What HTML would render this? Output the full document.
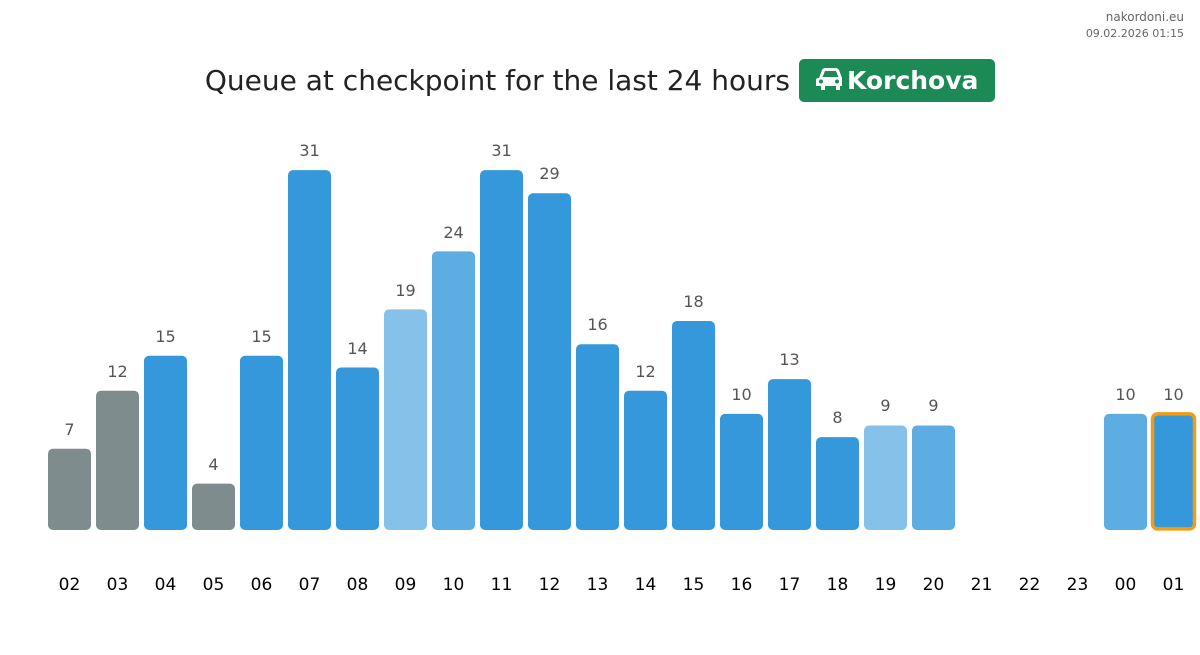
<!DOCTYPE html>
<html><head><meta charset="utf-8"><style>
body{margin:0;background:#fff;width:1200px;height:651px;overflow:hidden;font-family:"DejaVu Sans","Liberation Sans",sans-serif}
</style></head><body>
<svg width="1200" height="651" xmlns="http://www.w3.org/2000/svg" font-family="DejaVu Sans, Liberation Sans, sans-serif">
<text x="1184" y="21" font-size="12" fill="#666" text-anchor="end">nakordoni.eu</text>
<text x="1184" y="37" font-size="11" fill="#666" text-anchor="end">09.02.2026 01:15</text>
<text x="790" y="90" font-size="28" fill="#222" text-anchor="end">Queue at checkpoint for the last 24 hours</text>
<rect x="799" y="59" width="196" height="43" rx="5" fill="#1b8a55"/>
<path d="M819 78 L822 70 Q823 68 826 68 L835 68 Q838 68 839 70 L842 78 Q842 78 842 80 L842 86 L840 86 L840 90 L836 90 L836 86 L825 86 L825 90 L821 90 L821 86 L816 86 L816 80 Q816 78 819 78 Z M822.5 77 L838.5 77 L836 71 L825 71 Z" fill="#fff" fill-rule="evenodd"/>
<circle cx="821" cy="81.5" r="2" fill="#1b8a55"/><circle cx="837" cy="81.5" r="2" fill="#1b8a55"/>
<text x="847" y="89" font-size="25" font-weight="bold" fill="#fff">Korchova</text>
<g>
<rect x="48" y="448.7" width="43" height="81.3" rx="5" fill="#7f8c8d"/>
<rect x="96" y="390.7" width="43" height="139.3" rx="5" fill="#7f8c8d"/>
<rect x="144" y="355.8" width="43" height="174.2" rx="5" fill="#3498db"/>
<rect x="192" y="483.6" width="43" height="46.4" rx="5" fill="#7f8c8d"/>
<rect x="240" y="355.8" width="43" height="174.2" rx="5" fill="#3498db"/>
<rect x="288" y="170.1" width="43" height="359.9" rx="5" fill="#3498db"/>
<rect x="336" y="367.5" width="43" height="162.5" rx="5" fill="#3498db"/>
<rect x="384" y="309.4" width="43" height="220.6" rx="5" fill="#85c1e9"/>
<rect x="432" y="251.4" width="43" height="278.6" rx="5" fill="#5dade2"/>
<rect x="480" y="170.1" width="43" height="359.9" rx="5" fill="#3498db"/>
<rect x="528" y="193.3" width="43" height="336.7" rx="5" fill="#3498db"/>
<rect x="576" y="344.2" width="43" height="185.8" rx="5" fill="#3498db"/>
<rect x="624" y="390.7" width="43" height="139.3" rx="5" fill="#3498db"/>
<rect x="672" y="321" width="43" height="209" rx="5" fill="#3498db"/>
<rect x="720" y="413.9" width="43" height="116.1" rx="5" fill="#3498db"/>
<rect x="768" y="379.1" width="43" height="150.9" rx="5" fill="#3498db"/>
<rect x="816" y="437.1" width="43" height="92.9" rx="5" fill="#3498db"/>
<rect x="864" y="425.5" width="43" height="104.5" rx="5" fill="#85c1e9"/>
<rect x="912" y="425.5" width="43" height="104.5" rx="5" fill="#5dade2"/>
<rect x="1104" y="413.9" width="43" height="116.1" rx="5" fill="#5dade2"/>
<rect x="1152.5" y="413.9" width="42" height="115" rx="5" fill="#3498db" stroke="#f39c12" stroke-width="3.5"/>
</g>
<g font-size="16" fill="#555" text-anchor="middle">
<text x="69.5" y="435">7</text>
<text x="117.5" y="377">12</text>
<text x="165.5" y="342">15</text>
<text x="213.5" y="470">4</text>
<text x="261.5" y="342">15</text>
<text x="309.5" y="156">31</text>
<text x="357.5" y="354">14</text>
<text x="405.5" y="296">19</text>
<text x="453.5" y="238">24</text>
<text x="501.5" y="156">31</text>
<text x="549.5" y="179">29</text>
<text x="597.5" y="330">16</text>
<text x="645.5" y="377">12</text>
<text x="693.5" y="307">18</text>
<text x="741.5" y="400">10</text>
<text x="789.5" y="365">13</text>
<text x="837.5" y="423">8</text>
<text x="885.5" y="411">9</text>
<text x="933.5" y="411">9</text>
<text x="1125.5" y="400">10</text>
<text x="1173.5" y="400">10</text>
</g>
<g font-size="17" fill="#000" text-anchor="middle">
<text x="69.5" y="590">02</text><text x="117.5" y="590">03</text><text x="165.5" y="590">04</text><text x="213.5" y="590">05</text>
<text x="261.5" y="590">06</text><text x="309.5" y="590">07</text><text x="357.5" y="590">08</text><text x="405.5" y="590">09</text>
<text x="453.5" y="590">10</text><text x="501.5" y="590">11</text><text x="549.5" y="590">12</text><text x="597.5" y="590">13</text>
<text x="645.5" y="590">14</text><text x="693.5" y="590">15</text><text x="741.5" y="590">16</text><text x="789.5" y="590">17</text>
<text x="837.5" y="590">18</text><text x="885.5" y="590">19</text><text x="933.5" y="590">20</text><text x="981.5" y="590">21</text>
<text x="1029.5" y="590">22</text><text x="1077.5" y="590">23</text><text x="1125.5" y="590">00</text><text x="1173.5" y="590">01</text>
</g>
</svg>
</body></html>
